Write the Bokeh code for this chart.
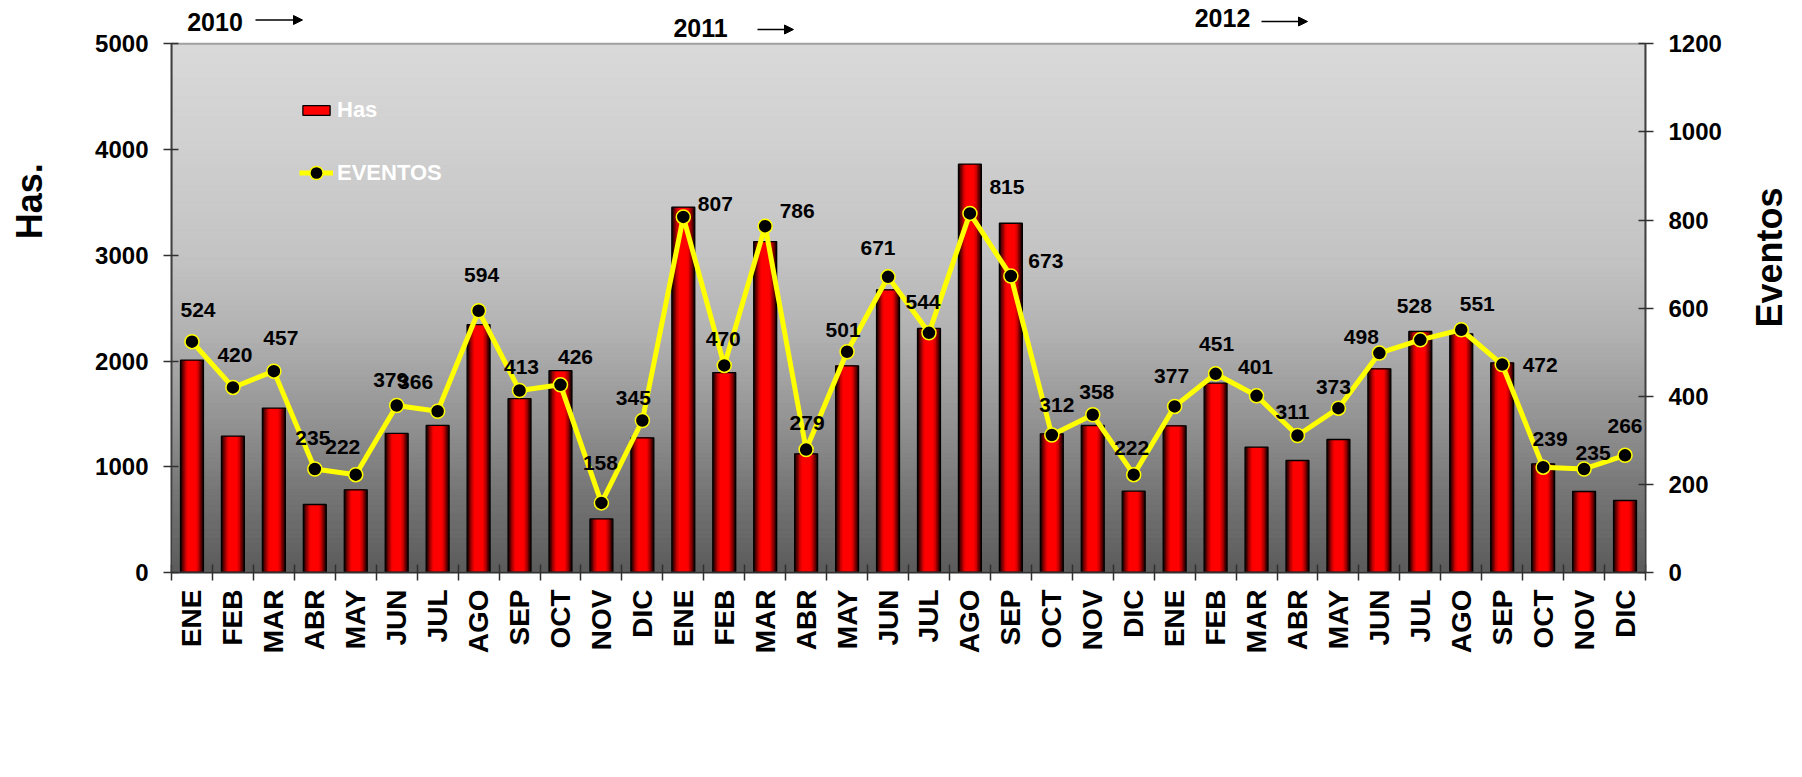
import numpy as np
from bokeh.plotting import figure
from bokeh.layouts import row
from bokeh.models import (Range1d, LinearAxis, FixedTicker, CustomJSTickFormatter,
                          ColumnDataSource, Label, Arrow, NormalHead, Legend, LegendItem)
from bokeh.embed import file_html
from bokeh.resources import INLINE
from bokeh.core.properties import value

# ---------------- data ----------------
month_names = ["ENE", "FEB", "MAR", "ABR", "MAY", "JUN", "JUL", "AGO", "SEP", "OCT", "NOV", "DIC"]
years = ["2010", "2011", "2012"]
categories = month_names * 3

has_2010 = [2008, 1289, 1555, 643, 782, 1315, 1391, 2344, 1644, 1910, 507, 1274]
has_2011 = [3455, 1891, 3130, 1122, 1955, 2673, 2308, 3862, 3303, 1311, 1390, 769]
has_2012 = [1387, 1791, 1185, 1059, 1258, 1926, 2279, 2257, 1983, 1028, 766, 681]

eventos_2010 = [524, 420, 457, 235, 222, 379, 366, 594, 413, 426, 158, 345]
eventos_2011 = [807, 470, 786, 279, 501, 671, 544, 815, 673, 312, 358, 222]
eventos_2012 = [377, 451, 401, 311, 373, 498, 528, 551, 472, 239, 235, 266]

has_ticks = [0, 1000, 2000, 3000, 4000, 5000]
eventos_ticks = [0, 200, 400, 600, 800, 1000, 1200]

# label placement (screen-pixel offsets of each value label from its point)
label_dx = [6, 2, 7, -2, -13, -6, -22, 3, 2, 15, -1, -9,
            32, -1, 32, 1, -4, -10, -6, 37, 35, 5, 4, -2,
            -3, 1, -1, -5, -5, -18, -6, 16, 38, 7, 9, 0]
label_dy = [-32, -32, -33, -31, -28, -26, -29, -36, -24, -28, -40, -22,
            -13, -26, -15, -27, -22, -29, -31, -26, -15, -30, -23, -27,
            -30, -30, -29, -23, -21, -16, -34, -26, 0, -28, -16, -29]

has = has_2010 + has_2011 + has_2012
eventos = eventos_2010 + eventos_2011 + eventos_2012
n = len(categories)
xs = [i + 0.5 for i in range(n)]

src = ColumnDataSource(dict(x=xs, has=has, ev=eventos,
                            lab=[str(v) for v in eventos],
                            dx=label_dx, dy=label_dy))

FONT = "Liberation Sans"

# ---------------- page geometry (page pixels) ----------------
H = 761
W_L, W_M, W_R = 60, 1680, 50
W_TOT = W_L + W_M + W_R
FRAME_L, FRAME_R, FRAME_B = 171, 1645, 572
PLOT_TOP = 43.3           # page y of the top of the plotting area (5000 / 1200)
HAS_MAX, EV_MAX = 5000, 1200
frame_scale = FRAME_B / (FRAME_B - PLOT_TOP)


def blank(w, h, x0, x1, y_bottom, y_top):
    f = figure(width=w, height=h, x_range=Range1d(x0, x1), y_range=Range1d(y_bottom, y_top),
               output_backend="svg", toolbar_location=None,
               x_axis_type=None, y_axis_type=None,
               min_border=0, min_border_left=0, min_border_right=0,
               min_border_top=0, min_border_bottom=0)
    f.outline_line_color = None
    f.background_fill_color = "white"
    f.border_fill_color = "white"
    return f


# ---------------- main chart ----------------
# the frame reaches the page top so the year notes above the plot area can live inside it
p = figure(width=W_M, height=H, x_range=Range1d(0, n),
           y_range=Range1d(0, HAS_MAX * frame_scale),
           output_backend="svg", toolbar_location=None,
           min_border_left=FRAME_L - W_L, min_border_right=W_L + W_M - FRAME_R,
           min_border_top=0, min_border_bottom=H - FRAME_B)
p.xgrid.visible = False
p.ygrid.visible = False
p.outline_line_color = None
p.border_fill_color = "white"
p.background_fill_color = "white"

# vertical gray gradient background of the plot area
nb = 160
edges = np.linspace(HAS_MAX, 0, nb + 1)
t = (HAS_MAX - (edges[:-1] + edges[1:]) / 2) / HAS_MAX
g = np.interp(t, [0, 0.2, 0.4, 0.55, 0.7, 0.85, 1.0], [218, 208, 196, 178, 150, 118, 92])
band_cols = ["#%02x%02x%02x" % (int(v), int(v), int(v)) for v in g]
p.quad(left=0, right=n, top=edges[:-1], bottom=edges[1:],
       fill_color=band_cols, line_color=band_cols, line_width=1)
# plot-area border
p.quad(left=0, right=n, top=HAS_MAX, bottom=0, fill_alpha=0,
       line_color="#a0a0a0", line_width=2)

# bars with a horizontal dark-red -> red -> dark-red shading
BW = 0.56
layers = [(1.0, "#2a0000"), (0.86, "#5e0000"), (0.74, "#930000"),
          (0.62, "#c40000"), (0.50, "#e80000"), (0.38, "#ff0000")]
bar_rs = []
for frac, col in layers:
    r = p.vbar(x="x", top="has", bottom=0, width=BW * frac, source=src,
               fill_color=col, line_color=None)
    bar_rs.append(r)
outline_r = p.vbar(x="x", top="has", bottom=0, width=BW, source=src,
                   fill_alpha=0, line_color="black", line_width=1.3)

# right axis for events
p.extra_y_ranges = {"ev": Range1d(0, EV_MAX * frame_scale)}
ax_r = LinearAxis(y_range_name="ev", ticker=FixedTicker(ticks=eventos_ticks))
p.add_layout(ax_r, "right")

line_r = p.line(x="x", y="ev", source=src, y_range_name="ev",
                line_color="#ffff00", line_width=5)
pt_r = p.scatter(x="x", y="ev", source=src, y_range_name="ev", size=14,
                 fill_color="black", line_color="#ffff00", line_width=1.5)
p.text(x="x", y="ev", text="lab", source=src, y_range_name="ev",
       x_offset="dx", y_offset="dy", text_align="center", text_baseline="middle",
       text_font=value(FONT), text_font_style="bold", text_font_size="21px",
       text_color="black")

# axes styling
ax_l = p.yaxis[0]
ax_l.ticker = FixedTicker(ticks=has_ticks)
ax_l.bounds = (0, HAS_MAX)
ax_r.bounds = (0, EV_MAX)
for ax in (ax_l, ax_r):
    ax.major_label_text_font = FONT
    ax.major_label_text_font_style = "bold"
    ax.major_label_text_font_size = "24px"
    ax.major_label_text_color = "black"
    ax.major_tick_in = 7
    ax.major_tick_out = 8
    ax.major_tick_line_color = "#303030"
    ax.major_tick_line_width = 1.5
    ax.minor_tick_line_color = None
    ax.axis_line_color = "#404040"
    ax.axis_line_width = 2
    ax.major_label_standoff = 15

ax_x = p.xaxis[0]
ax_x.ticker = FixedTicker(ticks=xs, minor_ticks=list(range(n + 1)))
ax_x.formatter = CustomJSTickFormatter(args=dict(labels=categories),
                                      code="return labels[Math.floor(tick)];")
ax_x.major_tick_line_color = None
ax_x.major_tick_in = 0
ax_x.major_tick_out = 8
ax_x.minor_tick_in = 8
ax_x.minor_tick_out = 8
ax_x.minor_tick_line_color = "#303030"
ax_x.minor_tick_line_width = 1.5
ax_x.axis_line_color = "#303030"
ax_x.axis_line_width = 2
ax_x.major_label_orientation = np.pi / 2
ax_x.major_label_standoff = 9
ax_x.major_label_text_font = FONT
ax_x.major_label_text_font_style = "bold"
ax_x.major_label_text_font_size = "28px"
ax_x.major_label_text_color = "black"

# legends (inside the plot area, frame-relative screen units)
leg1 = Legend(items=[LegendItem(label="Has", renderers=[bar_rs[-1], outline_r])],
              location=(128, FRAME_B - 123), glyph_width=34, glyph_height=12,
              label_height=12, padding=0, margin=0, spacing=0, label_standoff=4,
              background_fill_alpha=0, border_line_alpha=0,
              label_text_color="white", label_text_font=FONT,
              label_text_font_style="bold", label_text_font_size="22px")
leg2 = Legend(items=[LegendItem(label="EVENTOS", renderers=[line_r, pt_r])],
              location=(128, FRAME_B - 189), glyph_width=34, glyph_height=33,
              label_height=33, padding=0, margin=0, spacing=0, label_standoff=4,
              background_fill_alpha=0, border_line_alpha=0,
              label_text_color="white", label_text_font=FONT,
              label_text_font_style="bold", label_text_font_size="22px")
p.add_layout(leg1)
p.add_layout(leg2)

# year notes above the plotting area (frame-relative screen units)
year_pos = [(214.5, 21, 255, 302, 19.5), (700, 27, 757, 793, 29), (1222, 17, 1261, 1307, 21)]
for yr, (cx, cy, a0, a1, ay) in zip(years, year_pos):
    p.add_layout(Label(x=cx - FRAME_L, y=FRAME_B - cy, x_units="screen", y_units="screen",
                       text=yr, text_align="center", text_baseline="middle",
                       text_font=FONT, text_font_style="bold", text_font_size="25px",
                       text_color="black"))
    p.add_layout(Arrow(x_start=a0 - FRAME_L, y_start=FRAME_B - ay,
                       x_end=a1 - FRAME_L, y_end=FRAME_B - ay,
                       start_units="screen", end_units="screen",
                       line_color="black", line_width=1.5,
                       end=NormalHead(size=9, fill_color="black", line_color="black")))

# ---------------- axis titles in side strips ----------------
left = blank(W_L, H, 0, W_L, H, 0)
left.add_layout(Label(x=28.5, y=267, text="Has.", angle=np.pi / 2,
                      text_align="center", text_baseline="middle", text_color="black",
                      text_font=FONT, text_font_style="bold", text_font_size="36px"))

right = blank(W_R, H, W_L + W_M, W_TOT, H, 0)
right.add_layout(Label(x=1769, y=342, text="Eventos", angle=np.pi / 2,
                       text_align="center", text_baseline="middle", text_color="black",
                       text_font=FONT, text_font_style="bold", text_font_size="36px"))

layout = row(left, p, right)
open("out.html", "w").write(file_html(layout, INLINE))
